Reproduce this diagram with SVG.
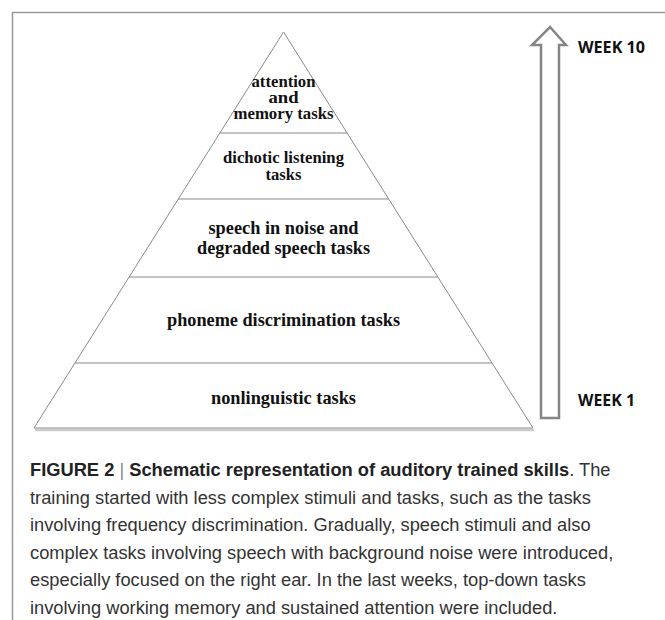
<svg xmlns="http://www.w3.org/2000/svg" width="665" height="620" viewBox="0 0 665 620">
<style>
.frame{stroke:#9a9a9a;stroke-width:1.5;fill:none}
.tri{stroke:#8a8a8a;stroke-width:1;fill:#ffffff}
.div{stroke:#8a8a8a;stroke-width:1.2;fill:none}
.lvl{font-family:"Liberation Serif","Times New Roman",serif;font-weight:bold;font-size:17.5px;fill:#111;text-anchor:middle}
.big{font-size:19.5px}
.wk{font-family:"Open Sans","Liberation Sans",sans-serif;font-weight:bold;font-size:16.5px;fill:#111}
.cap{font-family:"Liberation Sans",Arial,sans-serif;font-size:18.3px;fill:#333}
.capb{font-weight:bold;fill:#222}
.arrow{stroke:#858585;stroke-width:2.5;fill:#ffffff;stroke-linejoin:miter}
</style>
<rect width="665" height="620" fill="#ffffff"/>
<line class="frame" x1="12" y1="12.5" x2="665" y2="12.5"/>
<line class="frame" x1="12.5" y1="12" x2="12.5" y2="620"/>
<g id="pyramid">
<line x1="35" y1="430" x2="534" y2="430" stroke="#cccccc" stroke-width="2.5"/>
<polygon class="tri" points="283.5,32 34,428 533,428"/>
</g>
<g id="connectors">
<line class="div" x1="219.5" y1="133" x2="347.5" y2="133"/>
<line class="div" x1="178" y1="199" x2="388.5" y2="199"/>
<line class="div" x1="129" y1="277" x2="438" y2="277"/>
<line class="div" x1="75" y1="363" x2="492" y2="363"/>
</g>
<g id="level5">
<text class="lvl" x="283.5" y="87" textLength="64" lengthAdjust="spacingAndGlyphs">attention</text>
<text class="lvl" x="283.5" y="103" textLength="30" lengthAdjust="spacingAndGlyphs">and</text>
<text class="lvl" x="283.5" y="119" textLength="100" lengthAdjust="spacingAndGlyphs">memory tasks</text>
</g>
<g id="level4">
<text class="lvl" x="283.5" y="163" textLength="121" lengthAdjust="spacingAndGlyphs">dichotic listening</text>
<text class="lvl" x="283.5" y="180" textLength="36" lengthAdjust="spacingAndGlyphs">tasks</text>
</g>
<g id="level3">
<text class="lvl big" x="283.5" y="234" textLength="150" lengthAdjust="spacingAndGlyphs">speech in noise and</text>
<text class="lvl big" x="283.5" y="254" textLength="173" lengthAdjust="spacingAndGlyphs">degraded speech tasks</text>
</g>
<g id="level2">
<text class="lvl big" x="283.5" y="326" textLength="233" lengthAdjust="spacingAndGlyphs">phoneme discrimination tasks</text>
</g>
<g id="level1">
<text class="lvl big" x="283.5" y="404" textLength="145" lengthAdjust="spacingAndGlyphs">nonlinguistic tasks</text>
</g>
<g id="arrow">
<polygon class="arrow" points="550,27 566,45 559,45 559,418 541,418 541,45 532,45"/>
</g>
<g id="week10"><text class="wk" x="578" y="53" textLength="67" lengthAdjust="spacingAndGlyphs">WEEK 10</text></g>
<g id="week1"><text class="wk" x="578" y="406" textLength="57" lengthAdjust="spacingAndGlyphs">WEEK 1</text></g>
<g id="caption">
<text class="cap" x="30" y="476"><tspan class="capb">FIGURE 2</tspan><tspan fill="#888"> | </tspan><tspan class="capb">Schematic representation of auditory trained skills</tspan>. The</text>
<text class="cap" x="30" y="503.5">training started with less complex stimuli and tasks, such as the tasks</text>
<text class="cap" x="30" y="531">involving frequency discrimination. Gradually, speech stimuli and also</text>
<text class="cap" x="30" y="558.5">complex tasks involving speech with background noise were introduced,</text>
<text class="cap" x="30" y="586">especially focused on the right ear. In the last weeks, top-down tasks</text>
<text class="cap" x="30" y="613.5">involving working memory and sustained attention were included.</text>
</g>
</svg>
